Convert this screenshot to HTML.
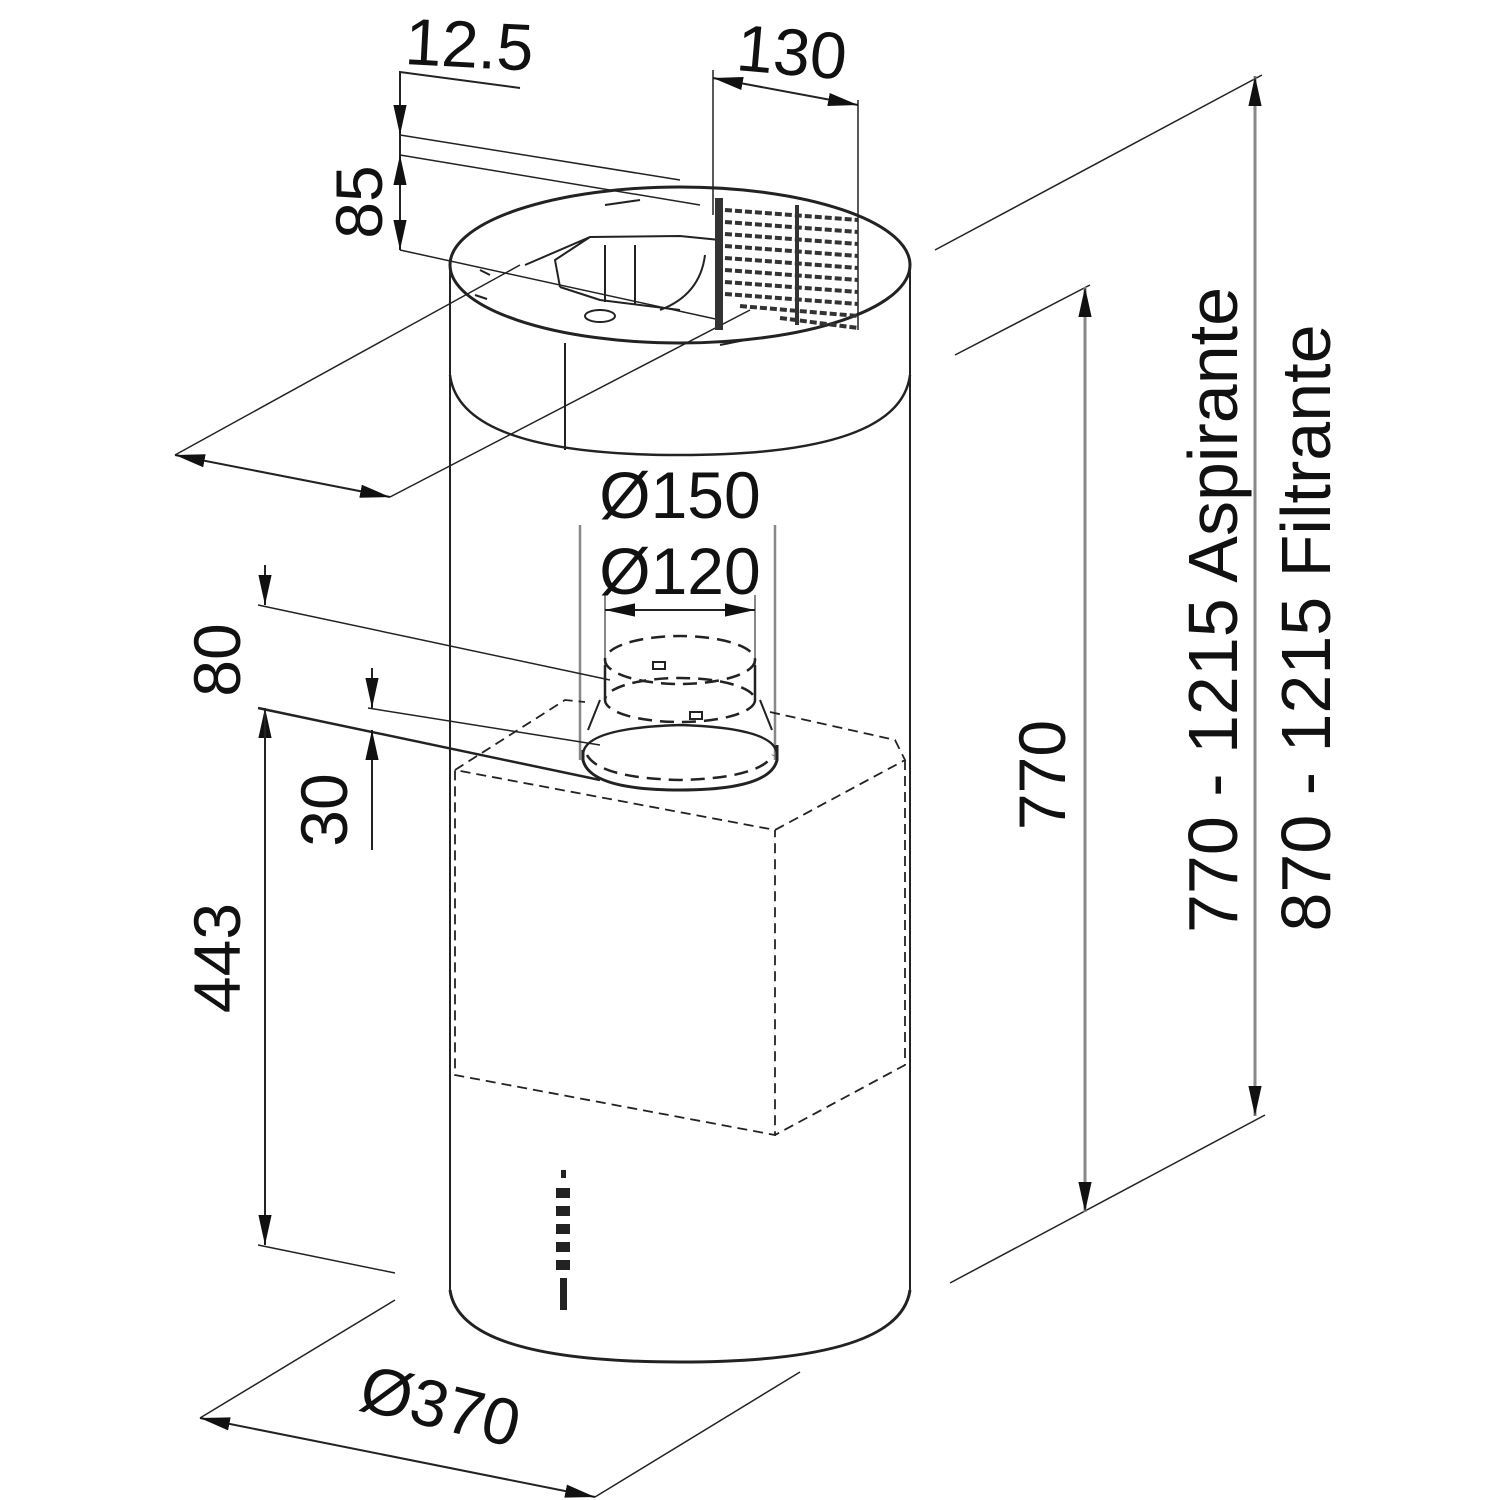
<!DOCTYPE html>
<html><head><meta charset="utf-8"><style>html,body{margin:0;padding:0;background:#fff}svg{display:block}</style></head>
<body>
<svg width="1500" height="1500" viewBox="0 0 1500 1500" xmlns="http://www.w3.org/2000/svg" font-family="Liberation Sans, sans-serif">
<defs>
<marker id="a" viewBox="0 0 10 10" refX="10" refY="5" markerWidth="30" markerHeight="30" markerUnits="userSpaceOnUse" orient="auto-start-reverse"><path d="M0,2.8 L10,5 L0,7.2 Z" fill="#111"/></marker>
</defs>
<g fill="none" stroke="#222" stroke-width="2">
<ellipse cx="680" cy="265" rx="230" ry="78" stroke-width="3"/>
<line x1="450" y1="268" x2="450" y2="1290"/>
<line x1="910" y1="268" x2="910" y2="1290"/>
<path d="M450,375 Q460,455 680,455 Q900,455 910,375" stroke-width="2.5"/>
<line x1="565" y1="343" x2="565" y2="450"/>
<path d="M450,1290 Q460,1362 680,1362 Q900,1362 910,1290" stroke-width="3"/>
<path d="M525,265 L590,237 L680,236 L720,240 M560,287 L600,300 L680,310 M590,237 L555,260 L560,287 M705,255 Q700,295 660,310" stroke-width="2"/>
<line x1="605" y1="245" x2="605" y2="302"/><line x1="635" y1="245" x2="635" y2="305"/>
<ellipse cx="600" cy="316" rx="15" ry="6"/>
<path d="M605,205 L640,200 M720,345 L745,340 M480,270 l10,5 M475,295 l12,4"/>
<polyline points="520,88 400,72 400,250"/>
<line x1="400" y1="135" x2="680" y2="180" stroke-width="1.5"/>
<line x1="400" y1="155" x2="700" y2="205" stroke-width="1.5"/>
<line x1="400" y1="250" x2="720" y2="320" stroke-width="1.5"/>
<line x1="400" y1="95" x2="400" y2="135" marker-end="url(#a)"/>
<line x1="400" y1="205" x2="400" y2="155" marker-end="url(#a)"/>
<line x1="400" y1="205" x2="400" y2="250" marker-end="url(#a)"/>
<line x1="713" y1="70" x2="713" y2="215" stroke-width="1.5"/>
<line x1="858" y1="100" x2="858" y2="330" stroke-width="1.5"/>
<line x1="713" y1="78" x2="858" y2="105" marker-start="url(#a)" marker-end="url(#a)"/>
<line x1="175" y1="455" x2="520" y2="265" stroke-width="1.5"/>
<line x1="390" y1="497" x2="750" y2="310" stroke-width="1.5"/>
<line x1="175" y1="455" x2="390" y2="497" marker-start="url(#a)" marker-end="url(#a)"/>
<line x1="935" y1="250" x2="1262" y2="75" stroke-width="1.5"/>
<line x1="955" y1="355" x2="1090" y2="285" stroke-width="1.5"/>
<line x1="950" y1="1283" x2="1265" y2="1115" stroke-width="1.5"/>
<line x1="1085" y1="287" x2="1085" y2="1212" stroke="#888" stroke-width="3" marker-start="url(#a)" marker-end="url(#a)"/>
<line x1="1255" y1="76" x2="1255" y2="1116" stroke="#888" stroke-width="3" marker-start="url(#a)" marker-end="url(#a)"/>
<line x1="580" y1="525" x2="580" y2="760" stroke="#888" stroke-width="2.5"/>
<line x1="775" y1="525" x2="775" y2="760" stroke="#888" stroke-width="2.5"/>
<line x1="605" y1="595" x2="605" y2="700" stroke="#888" stroke-width="2"/>
<line x1="755" y1="595" x2="755" y2="700" stroke="#888" stroke-width="2"/>
<line x1="645" y1="610" x2="605" y2="610" marker-end="url(#a)"/>
<line x1="715" y1="610" x2="755" y2="610" marker-end="url(#a)"/>
<line x1="640" y1="610" x2="720" y2="610"/>
<ellipse cx="680" cy="660" rx="75" ry="24" stroke-dasharray="14,8" stroke-width="2.5"/>
<ellipse cx="680" cy="700" rx="75" ry="22" stroke-dasharray="14,8" stroke-width="2.5"/>
<path d="M605,665 L605,700 M755,665 L755,700" stroke-width="2.5"/>
<path d="M583,755 Q583,728 680,725 Q777,728 777,755" stroke-width="2.5"/>
<path d="M587,755 Q600,778 680,780 Q760,778 773,755" stroke-width="2.5" stroke-dasharray="14,8"/>
<path d="M583,750 L583,760 Q590,790 680,790 Q770,790 777,760 L777,745" stroke-width="3"/>
<path d="M600,700 L588,730 M760,700 L772,730"/>
<rect x="653" y="662" width="12" height="7" stroke-width="2"/>
<rect x="690" y="712" width="12" height="7" stroke-width="2"/>
<g stroke-dasharray="10,6" stroke-width="1.8">
<polyline points="455,770 565,700 585,702"/>
<polyline points="770,712 895,740 905,760 775,830 455,770 455,1075 775,1135 775,830"/>
<polyline points="905,760 905,1065 775,1135"/>
</g>
<line x1="258" y1="605" x2="610" y2="680" stroke-width="1.5"/>
<line x1="258" y1="708" x2="600" y2="780" stroke-width="2.5"/>
<line x1="368" y1="708" x2="600" y2="745" stroke-width="1.5"/>
<line x1="265" y1="565" x2="265" y2="605" marker-end="url(#a)"/>
<line x1="265" y1="1245" x2="265" y2="708" marker-end="url(#a)"/>
<line x1="265" y1="708" x2="265" y2="1245" marker-end="url(#a)"/>
<line x1="372" y1="668" x2="372" y2="708" marker-end="url(#a)"/>
<line x1="372" y1="850" x2="372" y2="730" marker-end="url(#a)"/>
<line x1="258" y1="1245" x2="395" y2="1273" stroke-width="1.5"/>
<line x1="200" y1="1418" x2="395" y2="1300" stroke-width="1.5"/>
<line x1="595" y1="1497" x2="800" y2="1372" stroke-width="1.5"/>
<line x1="200" y1="1418" x2="595" y2="1497" marker-start="url(#a)" marker-end="url(#a)"/>
</g>
<g fill="#333">
<rect x="715" y="198" width="8" height="132"/>
<g stroke="#333" stroke-width="4" fill="none" stroke-dasharray="7,3">
<line x1="725" y1="210" x2="858" y2="220"/><line x1="725" y1="222" x2="858" y2="232"/>
<line x1="725" y1="234" x2="858" y2="244"/><line x1="725" y1="246" x2="858" y2="256"/>
<line x1="725" y1="258" x2="858" y2="268"/><line x1="725" y1="270" x2="858" y2="280"/>
<line x1="725" y1="282" x2="858" y2="292"/><line x1="725" y1="294" x2="858" y2="304"/>
<line x1="740" y1="306" x2="858" y2="316"/><line x1="780" y1="318" x2="858" y2="328"/>
</g>
<rect x="795" y="205" width="4" height="120"/>
</g>
<g fill="#222">
<rect x="561" y="1170" width="5" height="8"/>
<rect x="556" y="1188" width="14" height="10"/><rect x="556" y="1206" width="14" height="10"/>
<rect x="556" y="1224" width="14" height="10"/><rect x="556" y="1242" width="14" height="10"/>
<rect x="556" y="1260" width="14" height="10"/><rect x="560" y="1278" width="7" height="32"/>
</g>
<g fill="#111" font-size="66">
<text x="404" y="64" transform="rotate(3 404 64)">12.5</text>
<text x="735" y="70" transform="rotate(5 735 70)">130</text>
<text transform="translate(382,202) rotate(-90)" text-anchor="middle">85</text>
<text x="680" y="518" text-anchor="middle">Ø150</text>
<text x="680" y="594" text-anchor="middle">Ø120</text>
<text transform="translate(240,660) rotate(-90)" text-anchor="middle">80</text>
<text transform="translate(347,810) rotate(-90)" text-anchor="middle">30</text>
<text transform="translate(240,958) rotate(-90)" text-anchor="middle">443</text>
<text transform="translate(1065,775) rotate(-90)" text-anchor="middle">770</text>
<text transform="translate(1237,610) rotate(-90)" text-anchor="middle" font-size="70">770 - 1215 Aspirante</text>
<text transform="translate(1330,628) rotate(-90)" text-anchor="middle" font-size="70">870 - 1215 Filtrante</text>
<text transform="translate(435,1428) rotate(14)" text-anchor="middle">Ø370</text>
</g>
</svg>
</body></html>
